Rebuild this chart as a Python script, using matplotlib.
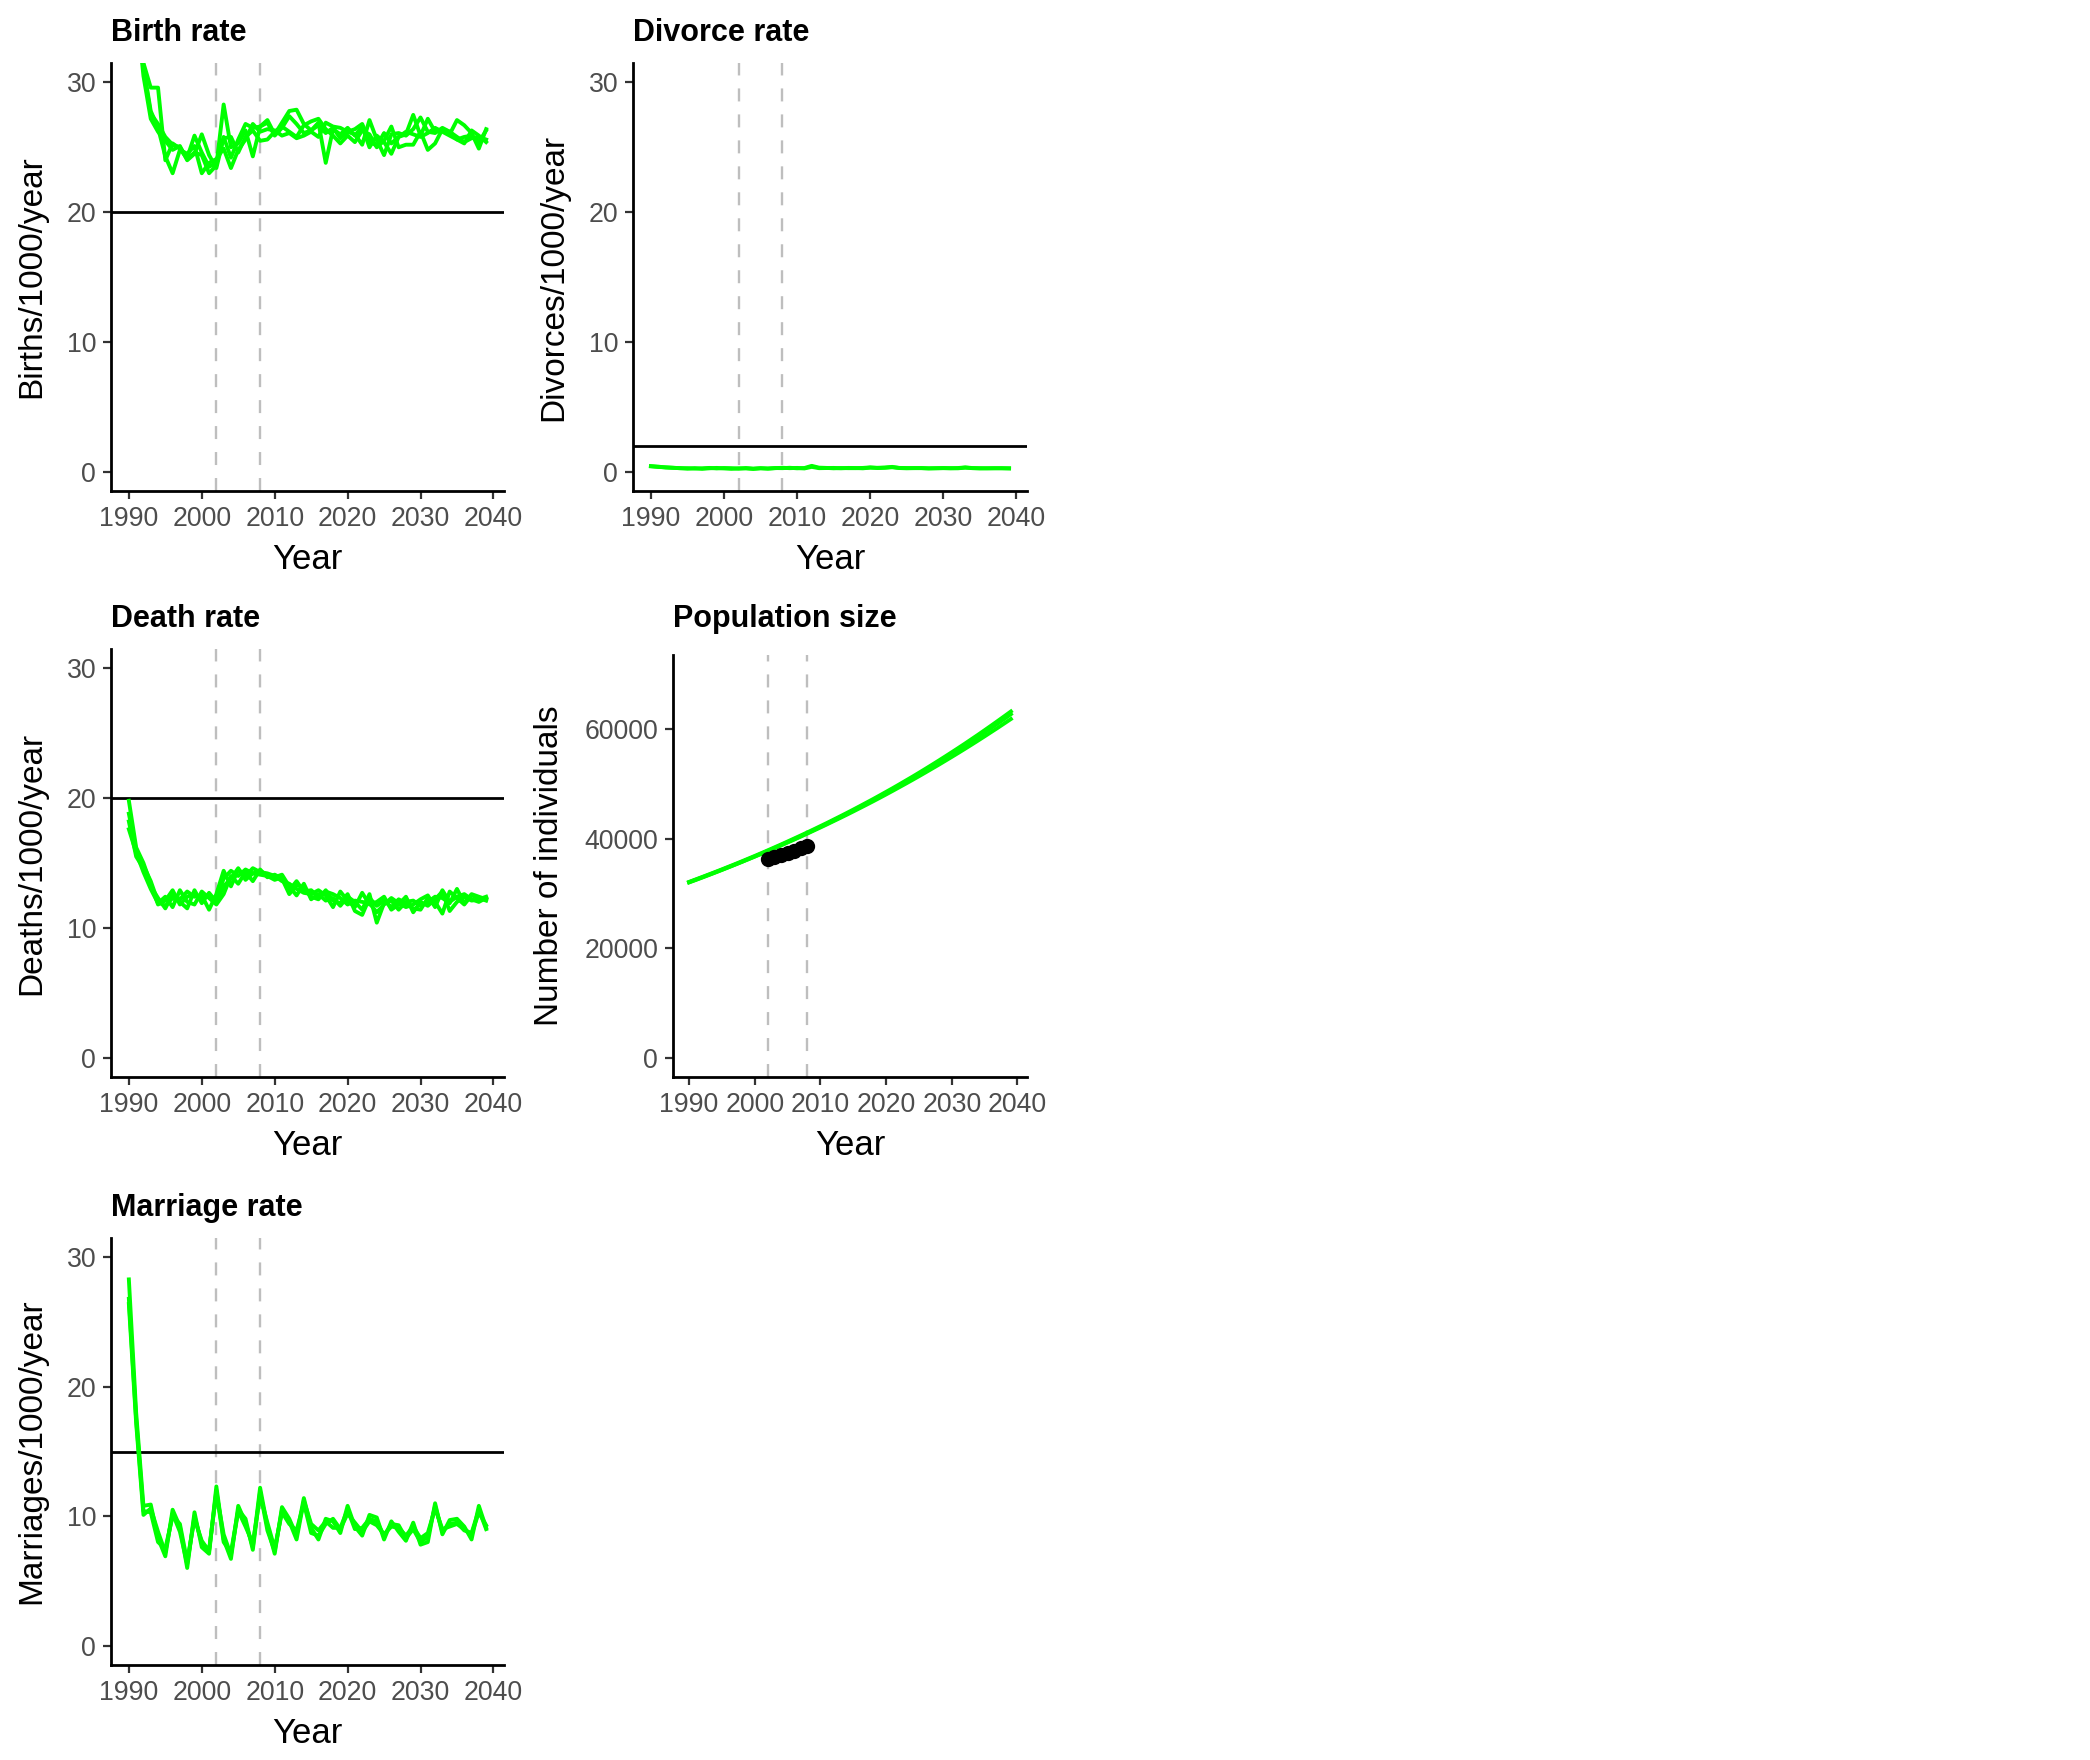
import matplotlib
matplotlib.use("Agg")
import matplotlib.pyplot as plt

plt.rcParams["font.family"] = ["Liberation Sans", "DejaVu Sans"]

# ---------------------------------------------------------------------------
# Data (simulated runs, 1990-2039)
# ---------------------------------------------------------------------------

years = list(range(1990, 2040))
intervention_years = [2002, 2008]

birth_runs = [
    [44.0, 37.0, 31.0, 27.6, 26.8, 25.8, 25.2, 25.0, 24.2, 25.9,
     24.6, 23.5, 23.8, 25.8, 24.2, 25.6, 26.8, 26.5, 26.6, 26.9,
     25.9, 26.5, 27.4, 26.8, 26.1, 26.3, 26.7, 26.1, 26.5, 25.7,
     26.2, 26.0, 25.2, 27.1, 25.6, 24.4, 26.0, 26.1, 25.9, 26.4,
     27.3, 26.2, 26.1, 26.5, 26.2, 25.6, 25.8, 25.9, 25.4, 26.3],
    [46.0, 38.0, 31.5, 29.6, 29.6, 24.0, 25.3, 24.9, 24.1, 24.6,
     24.4, 23.0, 23.6, 28.3, 25.0, 25.3, 26.3, 24.3, 26.6, 27.1,
     26.0, 26.9, 27.8, 27.9, 26.8, 26.3, 26.9, 23.8, 26.4, 26.0,
     26.5, 25.9, 26.6, 25.0, 25.9, 25.4, 24.5, 25.8, 26.0, 27.5,
     25.9, 27.2, 26.2, 26.3, 26.0, 27.1, 26.7, 26.1, 24.9, 26.4],
    [43.0, 36.0, 30.5, 27.2, 26.2, 25.5, 24.8, 25.1, 24.0, 24.5,
     26.0, 24.4, 23.4, 25.7, 25.8, 24.6, 25.8, 26.3, 25.5, 25.6,
     26.2, 26.6, 26.2, 25.8, 26.7, 27.0, 27.2, 26.4, 25.9, 25.3,
     25.9, 25.4, 26.3, 26.0, 25.0, 25.5, 26.6, 25.0, 25.2, 25.2,
     26.2, 24.8, 25.3, 26.4, 26.2, 25.8, 25.4, 25.7, 25.8, 25.6],
    [45.0, 37.5, 31.2, 27.8, 26.5, 24.3, 23.0, 24.8, 24.5, 25.1,
     23.0, 23.8, 24.1, 24.9, 23.4, 24.8, 25.6, 26.8, 26.2, 26.4,
     26.3, 25.9, 26.1, 25.7, 25.9, 26.2, 25.8, 26.9, 26.6, 26.5,
     26.2, 26.4, 26.8, 25.5, 25.1, 26.1, 25.3, 25.8, 26.2, 26.0,
     25.8, 26.1, 26.5, 26.2, 25.9, 25.6, 25.3, 26.3, 25.9, 25.4],
]

death_runs = [
    [19.8, 16.2, 15.0, 13.4, 11.8, 12.1, 12.9, 11.8, 12.4, 12.6,
     12.3, 12.5, 12.2, 13.8, 14.4, 14.0, 14.5, 14.2, 14.1, 14.0,
     13.7, 13.9, 12.9, 13.6, 12.8, 12.9, 12.4, 12.8, 12.6, 12.3,
     11.8, 12.1, 12.0, 11.9, 11.2, 11.8, 12.3, 11.9, 11.6, 11.8,
     12.2, 12.5, 11.6, 12.9, 12.0, 12.4, 12.6, 12.2, 12.0, 12.3],
    [18.2, 15.5, 14.6, 13.2, 12.3, 11.5, 12.6, 12.2, 12.8, 12.4,
     12.5, 11.4, 12.6, 14.4, 13.2, 14.5, 14.0, 14.6, 14.3, 14.2,
     14.0, 13.6, 13.4, 13.0, 12.7, 12.6, 12.9, 12.5, 11.6, 12.8,
     12.1, 11.6, 12.7, 11.8, 12.0, 12.4, 11.4, 11.8, 12.4, 11.2,
     12.0, 11.7, 12.2, 12.8, 11.3, 12.0, 12.4, 12.1, 12.2, 12.4],
    [17.6, 15.8, 14.3, 13.0, 11.9, 12.4, 11.6, 12.9, 12.0, 11.8,
     12.8, 12.3, 11.8, 12.6, 14.0, 13.4, 14.3, 13.6, 14.5, 13.9,
     14.1, 13.8, 12.6, 13.3, 13.1, 12.4, 12.2, 12.9, 12.1, 11.9,
     12.6, 11.3, 11.0, 12.3, 11.7, 12.1, 11.6, 12.2, 11.9, 11.5,
     11.4, 12.3, 12.0, 11.1, 12.8, 12.3, 11.8, 12.5, 12.3, 12.1],
    [18.8, 16.0, 14.8, 13.6, 12.0, 11.7, 12.3, 12.0, 11.5, 12.9,
     11.9, 12.7, 12.0, 13.2, 13.8, 14.6, 13.7, 14.2, 14.4, 14.0,
     13.9, 14.1, 13.2, 12.5, 13.4, 12.2, 12.6, 12.1, 12.3, 11.7,
     12.4, 12.0, 11.4, 12.6, 10.4, 11.9, 12.1, 11.4, 12.0, 12.1,
     11.7, 12.0, 12.4, 12.3, 11.9, 13.0, 11.9, 12.6, 12.4, 12.2],
]

marriage_runs = [
    [28.3, 18.0, 10.8, 10.9, 8.3, 6.9, 10.5, 9.2, 6.0, 10.3,
     7.6, 7.1, 12.3, 8.2, 6.7, 10.8, 9.5, 7.6, 12.2, 9.2,
     7.1, 10.7, 9.8, 8.5, 11.4, 9.1, 8.2, 9.8, 9.6, 8.7,
     10.8, 9.2, 8.5, 10.1, 9.9, 8.2, 9.6, 8.8, 8.1, 9.5,
     7.8, 8.0, 11.0, 8.6, 9.7, 9.8, 9.2, 8.2, 10.8, 9.1],
    [26.4, 17.2, 10.1, 10.6, 8.8, 7.2, 10.2, 8.8, 6.3, 10.0,
     7.9, 7.4, 11.8, 8.6, 7.0, 10.4, 9.2, 7.9, 11.6, 9.5,
     7.5, 10.3, 9.4, 8.9, 11.0, 8.7, 8.5, 9.4, 9.8, 9.0,
     10.2, 9.5, 8.8, 9.6, 9.3, 8.6, 9.2, 9.1, 8.5, 9.2,
     8.3, 8.7, 10.6, 9.0, 9.2, 9.4, 9.0, 8.6, 10.3, 9.3],
    [26.8, 17.5, 10.4, 10.3, 8.0, 7.5, 10.0, 9.4, 6.5, 9.8,
     8.1, 7.3, 12.0, 8.0, 7.2, 10.5, 9.8, 7.4, 11.9, 8.9,
     7.3, 10.5, 9.6, 8.2, 11.2, 9.4, 8.9, 9.6, 9.1, 9.1,
     10.5, 9.0, 9.1, 9.8, 9.6, 8.5, 9.4, 9.3, 8.3, 9.0,
     8.0, 8.4, 10.8, 8.8, 9.4, 9.5, 8.9, 8.7, 10.5, 9.0],
]

divorce_runs = [
    [0.42, 0.38, 0.31, 0.28, 0.27, 0.22, 0.26, 0.21, 0.25, 0.28,
     0.24, 0.21, 0.25, 0.24, 0.20, 0.25, 0.24, 0.27, 0.26, 0.29,
     0.25, 0.27, 0.44, 0.30, 0.28, 0.25, 0.27, 0.26, 0.26, 0.28,
     0.32, 0.27, 0.29, 0.33, 0.27, 0.25, 0.27, 0.26, 0.24, 0.25,
     0.26, 0.26, 0.25, 0.30, 0.26, 0.24, 0.25, 0.26, 0.25, 0.24],
    [0.40, 0.35, 0.33, 0.30, 0.25, 0.26, 0.23, 0.25, 0.28, 0.24,
     0.27, 0.26, 0.22, 0.27, 0.23, 0.26, 0.22, 0.26, 0.29, 0.26,
     0.28, 0.24, 0.36, 0.26, 0.27, 0.28, 0.25, 0.28, 0.27, 0.25,
     0.30, 0.29, 0.31, 0.36, 0.28, 0.27, 0.26, 0.27, 0.25, 0.26,
     0.27, 0.25, 0.27, 0.32, 0.27, 0.26, 0.25, 0.25, 0.26, 0.25],
]

pop_runs = [
    [32100, 32550, 33000, 33460, 33920, 34390, 34870, 35350, 35840, 36340,
     36840, 37350, 37870, 38400, 38930, 39470, 40020, 40570, 41130, 41700,
     42280, 42860, 43460, 44060, 44670, 45290, 45920, 46560, 47200, 47860,
     48530, 49200, 49890, 50590, 51290, 52010, 52740, 53480, 54230, 54990,
     55760, 56540, 57330, 58140, 58950, 59780, 60620, 61470, 62330, 63200],
    [32000, 32440, 32890, 33350, 33810, 34280, 34760, 35240, 35730, 36230,
     36730, 37240, 37760, 38280, 38810, 39350, 39890, 40440, 41000, 41570,
     42140, 42720, 43310, 43910, 44510, 45130, 45750, 46380, 47020, 47670,
     48330, 49000, 49680, 50370, 51060, 51770, 52480, 53210, 53940, 54690,
     55440, 56210, 56980, 57770, 58560, 59370, 60190, 61010, 61850, 62700],
    [32050, 32490, 32940, 33390, 33850, 34310, 34780, 35260, 35740, 36230,
     36720, 37220, 37730, 38240, 38760, 39290, 39820, 40360, 40910, 41470,
     42030, 42600, 43180, 43760, 44350, 44950, 45560, 46170, 46790, 47420,
     48060, 48710, 49370, 50030, 50700, 51380, 52070, 52770, 53470, 54190,
     54910, 55640, 56380, 57130, 57890, 58660, 59440, 60220, 61020, 61820],
]

obs_years = [2002, 2003, 2004, 2005, 2006, 2007, 2008]
obs_pop = [36300, 36700, 37050, 37400, 37800, 38200, 38600]

x_ticks = [1990, 2000, 2010, 2020, 2030, 2040]
rate_ticks = [0, 10, 20, 30]
pop_ticks = [0, 20000, 40000, 60000]

# ---------------------------------------------------------------------------
# Figure
# ---------------------------------------------------------------------------

W, H = 2090, 1760
fig = plt.figure(figsize=(W / 200, H / 200), dpi=200)

GREEN = "#00FF00"
TICK_GREY = "#4D4D4D"


def add_panel(left, top, right, bottom):
    # pixel box -> figure fraction
    return fig.add_axes([left / W, 1 - bottom / H, (right - left) / W, (bottom - top) / H])


def style(ax, title, ylabel, title_pad=8):
    for side in ("top", "right"):
        ax.spines[side].set_visible(False)
    for side in ("left", "bottom"):
        ax.spines[side].set_linewidth(1.0)
        ax.spines[side].set_color("black")
    ax.tick_params(length=2.75, width=0.8, color="#333333",
                   labelsize=9.6, labelcolor=TICK_GREY, pad=2.6)
    ax.set_xlim(1987.55, 2041.45)
    ax.set_xticks(x_ticks)
    ax.set_xlabel("Year", fontsize=12.5, labelpad=4)
    ax.set_ylabel(ylabel, fontsize=12, labelpad=7)
    ax.set_title(title, loc="left", fontsize=11, fontweight="bold", pad=title_pad)
    for yr in intervention_years:
        ax.axvline(yr, color="#BEBEBE", lw=0.85, ls=(0, (5.5, 5.5)), zorder=1)


def rate_panel(box, title, ylabel, runs, ref):
    ax = add_panel(*box)
    style(ax, title, ylabel)
    ax.axhline(ref, color="black", lw=1.0, zorder=2)
    for run in runs:
        ax.plot(years, run, color=GREEN, lw=1.4, zorder=3)
    ax.set_ylim(-1.5, 31.5)
    ax.set_yticks(rate_ticks)
    return ax


rate_panel((111, 63, 504, 491), "Birth rate", "Births/1000/year", birth_runs, 20)
rate_panel((633, 63, 1027, 491), "Divorce rate", "Divorces/1000/year", divorce_runs, 2)
rate_panel((111, 649, 504, 1077), "Death rate", "Deaths/1000/year", death_runs, 20)
rate_panel((111, 1238, 504, 1665), "Marriage rate", "Marriages/1000/year", marriage_runs, 15)

# ── Population size ─────────────────────────────────────────────────────────
ax = add_panel(673, 655, 1027, 1077)
style(ax, "Population size", "Number of individuals", title_pad=10.2)
for run in pop_runs:
    ax.plot(years, run, color=GREEN, lw=1.4, zorder=3)
ax.plot(obs_years, obs_pop, "o", color="black", ms=4.5, zorder=4)
ax.set_ylim(-3500, 73500)
ax.set_yticks(pop_ticks)
ax.set_yticklabels([str(t) for t in pop_ticks])

fig.savefig("out.png", dpi=200)
